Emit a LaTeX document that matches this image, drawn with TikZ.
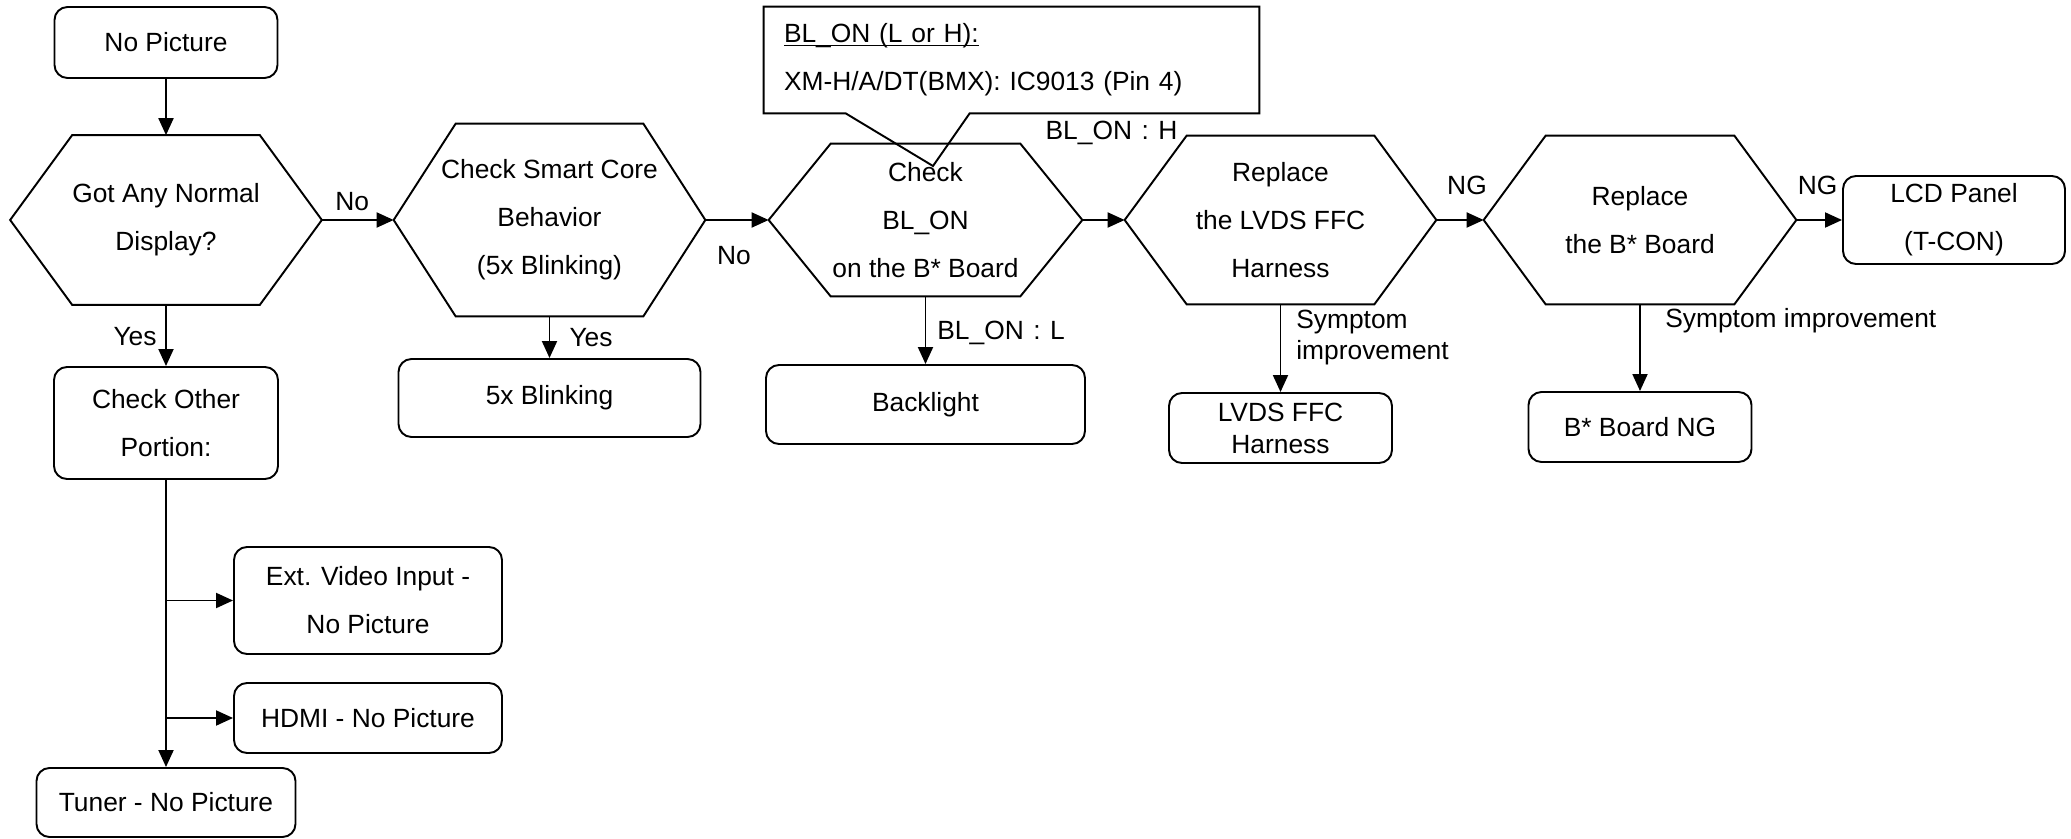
\documentclass[tikz,border=0pt]{standalone}
\usepackage{fontspec}
\setmainfont{Liberation Sans}
\usetikzlibrary{arrows.meta, positioning, calc}

\begin{document}
\begin{tikzpicture}[
    >={Triangle[length=0.34cm, width=0.30cm]},
    every node/.style={font=\fontsize{15}{27.3}\selectfont},
]
% ============================================================
% Styles
% ============================================================
\tikzset{
    hexbox/.style={
        align=center,
        inner sep=0pt,
        minimum width=6.22cm,
    },
    roundbox/.style={
        draw,
        line width=1.1pt,
        rounded corners=0.26cm,
        align=center,
        inner sep=0pt,
    },
    tightbox/.style={roundbox, font=\fontsize{15}{18.2}\selectfont},
    lbl/.style={inner sep=0pt, align=left, font=\fontsize{15}{17.6}\selectfont},
    flow/.style={->, line width=1.1pt},
}
\def\slant{1.24}
\useasboundingbox (0,0) rectangle (41.42,-16.78);

% ============================================================
% Top row: start box and the five hexagons
% ============================================================
\node[roundbox, minimum width=4.46cm, minimum height=1.42cm] (np) at (3.32, -0.85) {No Picture};
\node[hexbox, minimum height=3.38cm] (h1) at (3.32, -4.40) {Got Any Normal\\Display?};
\node[hexbox, minimum height=3.84cm] (h2) at (10.99, -4.40) {Check Smart Core\\Behavior\\(5x Blinking)};
\node[hexbox, minimum width=6.26cm, minimum height=3.04cm] (h3) at (18.51, -4.40) {Check\\BL\_ON\\on the B* Board};
\node[hexbox, minimum height=3.36cm] (h4) at (25.61, -4.40) {Replace\\the LVDS FFC\\Harness};
\node[hexbox, minimum width=6.24cm, minimum height=3.36cm] (h5) at (32.80, -4.40) {Replace\\the B* Board};
\node[roundbox, minimum width=4.44cm, minimum height=1.76cm] (lcd) at (39.08, -4.40) {LCD Panel\\(T-CON)};

% hexagon outlines
\foreach \n in {h1, h2, h3, h4, h5} {
    \draw[line width=1.1pt] (\n.west) -- ($(\n.north west) + (\slant, 0)$)
        -- ($(\n.north east) + (-\slant, 0)$) -- (\n.east)
        -- ($(\n.south east) + (-\slant, 0)$) -- ($(\n.south west) + (\slant, 0)$) -- cycle;
}

% ============================================================
% Result boxes under the hexagons
% ============================================================
\node[roundbox, minimum width=4.48cm, minimum height=2.24cm] (cop) at (3.32, -8.46) {Check Other\\Portion:};
\node[roundbox, minimum width=6.04cm, minimum height=1.56cm] (blink) at (10.99, -7.96) {5x Blinking};
\node[roundbox, minimum width=6.38cm, minimum height=1.58cm] (bl) at (18.51, -8.09) {Backlight};
\node[tightbox, minimum width=4.46cm, minimum height=1.40cm] (lvds) at (25.61, -8.56) {LVDS FFC\\Harness};
\node[roundbox, minimum width=4.46cm, minimum height=1.40cm] (bng) at (32.80, -8.54) {B* Board NG};

% --- Other portions (left column) ---
\node[roundbox, minimum width=5.36cm, minimum height=2.14cm] (ext) at (7.36, -12.01) {Ext. Video Input -\\No Picture};
\node[roundbox, minimum width=5.36cm, minimum height=1.40cm] (hdmi) at (7.36, -14.36) {HDMI - No Picture};
\node[roundbox, minimum width=5.18cm, minimum height=1.38cm] (tuner) at (3.32, -16.05) {Tuner - No Picture};

% ============================================================
% Callout for BL_ON
% ============================================================
\node[inner xsep=0.4cm, inner ysep=0pt, text width=9.1cm, minimum height=2.02cm, align=left] (call) at (20.23, -1.20)
    {\underline{\raisebox{0pt}[\height][0pt]{BL\_ON (L or H):}}\\XM-H/A/DT(BMX): IC9013 (Pin 4)};
\coordinate (cbl) at ($(call.south west) + (1.64, -0.05)$);
\coordinate (cbr) at ($(call.south west) + (4.12, -0.05)$);
\coordinate (tip) at (18.66, -3.32);
\draw[line width=1.1pt] (cbl) -- ($(call.south west) + (0, -0.05)$) -- ($(call.north west) + (0, 0.05)$)
    -- ($(call.north east) + (0, 0.05)$) -- ($(call.south east) + (0, -0.05)$) -- (cbr) -- (tip) -- cycle;

% ============================================================
% Arrows
% ============================================================
\draw[flow] (np) -- (h1);
\foreach \i/\j in {h1/h2, h2/h3, h3/h4, h4/h5, h5/lcd} {
    \draw[flow] (\i) -- (\j);
}
\foreach \i/\j in {h1/cop, h2/blink, h3/bl, h4/lvds, h5/bng} {
    \draw[flow] (\i) -- (\j);
}
\draw[flow] (cop) -- (tuner);
\coordinate (jext) at (cop.south |- ext.west);
\coordinate (jhdmi) at (cop.south |- hdmi.west);
\draw[flow] (jext) -- (ext);
\draw[flow] (jhdmi) -- (hdmi);

% ============================================================
% Arrow labels
% ============================================================
\node[lbl] (lno1) at ($(h1.east)!0.5!(h2.west) + (-0.11, 0.36)$) {No};
\node[lbl] (lno2) at ($(h2.east)!0.5!(h3.west) + (-0.06, -0.72)$) {No};
\node[lbl] (lyes1) at ($(h1.south)!0.5!(cop.north) + (-0.62, -0.03)$) {Yes};
\node[lbl] (lyes2) at ($(h2.south)!0.5!(blink.north) + (0.83, 0)$) {Yes};
\node[lbl] (lblh) at ($(h3.east)!0.5!(h4.west) + (0.16, 1.74)$) {BL\_ON\hspace{0.36em}:\hspace{0.36em}H};
\node[lbl, anchor=west] (lbll) at ($(h3.south)!0.5!(bl.north) + (0.23, -0.05)$) {BL\_ON\hspace{0.36em}:\hspace{0.36em}L};
\node[lbl, anchor=west] (lsym1) at ($(h4.south)!0.5!(lvds.north) + (0.31, 0.22)$) {Symptom\\improvement};
\node[lbl] (lng1) at ($(h4.east)!0.5!(h5.west) + (0.14, 0.70)$) {NG};
\node[lbl] (lng2) at ($(h5.east)!0.5!(lcd.west) + (-0.03, 0.70)$) {NG};
\node[lbl, anchor=west] (lsym2) at ($(h5.south)!0.5!(bng.north) + (0.50, 0.55)$) {Symptom improvement};
\end{tikzpicture}
\end{document}
